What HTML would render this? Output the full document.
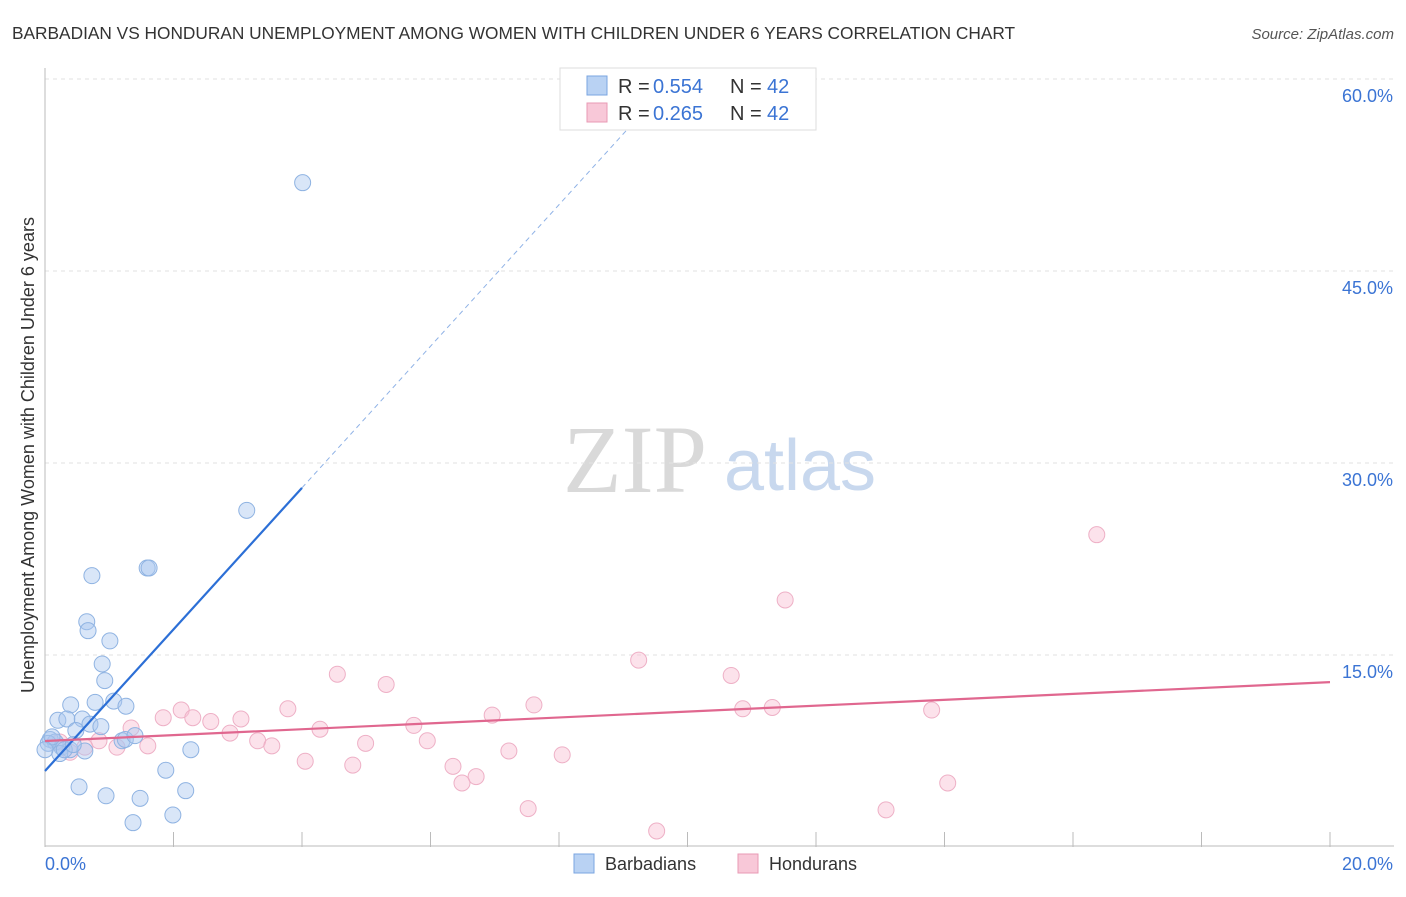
<!DOCTYPE html>
<html><head><meta charset="utf-8">
<style>
body{margin:0;background:#fff;font-family:"Liberation Sans",sans-serif;}
svg text{font-family:"Liberation Sans",sans-serif;}
</style></head>
<body>
<svg id="chart" width="1406" height="892" xmlns="http://www.w3.org/2000/svg">
<text x="12" y="39" font-size="17.3" fill="#333">BARBADIAN VS HONDURAN UNEMPLOYMENT AMONG WOMEN WITH CHILDREN UNDER 6 YEARS CORRELATION CHART</text>
<text x="1394" y="39" font-size="15" fill="#555" text-anchor="end" font-style="italic">Source: ZipAtlas.com</text>
<text x="34" y="455" font-size="18" fill="#333" text-anchor="middle" transform="rotate(-90 34 455)">Unemployment Among Women with Children Under 6 years</text>
<g>
<text x="635" y="492" font-size="96" fill="#d9d9d9" text-anchor="middle" style="font-family:'Liberation Serif',serif">ZIP</text>
<text x="800" y="490" font-size="72" fill="#c8d8ee" text-anchor="middle">atlas</text>
</g>
<g id="grid"></g>
<g id="marks"></g>
<g>
<rect x="560" y="68" width="256" height="62" fill="#fff" stroke="#ddd"/>
<rect x="587" y="76" width="20" height="19" fill="#b9d2f3" stroke="#7aa5e0"/>
<text y="93" font-size="20" fill="#333"><tspan x="618">R =</tspan><tspan x="653" fill="#3b74d4">0.554</tspan><tspan x="730">N =</tspan><tspan x="767" fill="#3b74d4">42</tspan></text>
<rect x="587" y="103" width="20" height="19" fill="#f8c8d8" stroke="#e89ab4"/>
<text y="120" font-size="20" fill="#333"><tspan x="618">R =</tspan><tspan x="653" fill="#3b74d4">0.265</tspan><tspan x="730">N =</tspan><tspan x="767" fill="#3b74d4">42</tspan></text>
</g>
<g>
<rect x="574" y="854" width="20" height="19" fill="#b9d2f3" stroke="#7aa5e0"/>
<text x="605" y="870" font-size="18" fill="#333">Barbadians</text>
<rect x="738" y="854" width="20" height="19" fill="#f8c8d8" stroke="#e89ab4"/>
<text x="769" y="870" font-size="18" fill="#333">Hondurans</text>
</g>
</svg>
<script>
const xTicks=[0,2,4,6,8,10,12,14,16,18,20];
const yTicks=[15,30,45,60];
const xTickLabels=["0.0%","20.0%"];
const yTickLabels=["15.0%","30.0%","45.0%","60.0%"];
const barbX=[4.01,3.14,1.59,1.62,0.73,0.65,0.67,1.01,0.89,0.93,0.40,0.78,1.07,1.26,0.20,0.34,0.58,0.70,0.87,0.48,0.08,0.16,0.26,0.39,0.62,1.20,1.25,1.40,2.27,1.88,0.53,0.95,1.48,2.19,1.37,1.99,0.05,0.23,0.30,0.11,0.44,0.0];
const barbY=[51.9,26.3,21.8,21.8,21.2,17.6,16.9,16.1,14.3,13.0,11.1,11.3,11.4,11.0,9.9,10.0,10.0,9.6,9.4,9.1,8.4,8.2,7.8,7.6,7.5,8.3,8.4,8.7,7.6,6.0,4.7,4.0,3.8,4.4,1.9,2.5,8.1,7.3,7.6,8.6,8.0,7.6];
const hondX=[16.37,11.52,9.24,4.55,10.68,5.31,7.61,2.12,3.78,1.84,2.30,3.05,2.58,4.28,5.74,6.96,10.86,11.32,13.80,1.34,2.88,3.31,3.53,4.99,5.95,1.60,1.12,0.84,4.05,4.79,6.35,7.22,8.05,6.71,6.49,14.05,7.52,13.09,9.52,0.62,0.39,0.23];
const hondY=[24.4,19.3,14.6,13.5,13.4,12.7,11.1,10.7,10.8,10.1,10.1,10.0,9.8,9.2,9.5,10.3,10.8,10.9,10.7,9.3,8.9,8.3,7.9,8.1,8.3,7.9,7.8,8.3,6.7,6.4,6.3,7.5,7.2,5.5,5.0,5.0,3.0,2.9,1.25,7.8,7.4,8.2];
const barbTrend=[5.94,5.53];
const hondTrend=[8.28,0.23];
const sx=v=>45+v*64.25, sy=v=>847-v*12.8;
const NS="http://www.w3.org/2000/svg";
const grid=document.getElementById('grid'), marks=document.getElementById('marks');
function mk(tag,attrs,parent){const e=document.createElementNS(NS,tag);for(const k in attrs)e.setAttribute(k,attrs[k]);parent.appendChild(e);return e;}
yTicks.forEach((t,i)=>{
 const l=mk('line',{x1:45,x2:1394,y1:sy(t),y2:sy(t),stroke:'#e2e2e2','stroke-dasharray':'4,4'},grid);
 
 
 const tx=mk('text',{x:1393,y:sy(t)+23,'font-size':18,fill:'#3b74d4','text-anchor':'end'},grid);
 tx.textContent=yTickLabels[i];
 
 
});
const ax=mk('line',{x1:45,x2:45,y1:68,y2:847,stroke:'#bbb'},grid);


const bx=mk('line',{x1:45,x2:1394,y1:846,y2:846,stroke:'#bbb'},grid);


xTicks.forEach(t=>{
 const l=mk('line',{x1:sx(t),x2:sx(t),y1:832,y2:847,stroke:'#bbb'},grid);
 
 
});
[[0,45,'start'],[1,1393,'end']].forEach(([i,x,a])=>{
 const tx=mk('text',{x:x,y:870,'font-size':18,fill:'#3b74d4','text-anchor':a},grid);
 tx.textContent=xTickLabels[i];
 
 
});
hondX.forEach((x,i)=>{
 const c=mk('circle',{cx:sx(x),cy:sy(hondY[i]),r:8,fill:'rgba(248,190,210,0.45)',stroke:'#eeb0c6','stroke-width':1},marks);
 
 
});
barbX.forEach((x,i)=>{
 const c=mk('circle',{cx:sx(x),cy:sy(barbY[i]),r:8,fill:'rgba(170,200,240,0.45)',stroke:'#8fb3e2','stroke-width':1},marks);
 
 
});
const bt=x=>barbTrend[0]+barbTrend[1]*x;
const l1=mk('line',{x1:sx(0),y1:sy(bt(0)),x2:sx(4),y2:sy(bt(4)),stroke:'#2c6fd6','stroke-width':2.2},marks);


const xe=(60-barbTrend[0])/barbTrend[1];
const l2=mk('line',{x1:sx(4),y1:sy(bt(4)),x2:sx(xe),y2:sy(bt(xe)),stroke:'#8fb2e6','stroke-width':1,'stroke-dasharray':'5,4'},marks);


const ht=x=>hondTrend[0]+hondTrend[1]*x;
const l3=mk('line',{x1:sx(0),y1:sy(ht(0)),x2:sx(20),y2:sy(ht(20)),stroke:'#e0678f','stroke-width':2.2},marks);


</script>
</body></html>
